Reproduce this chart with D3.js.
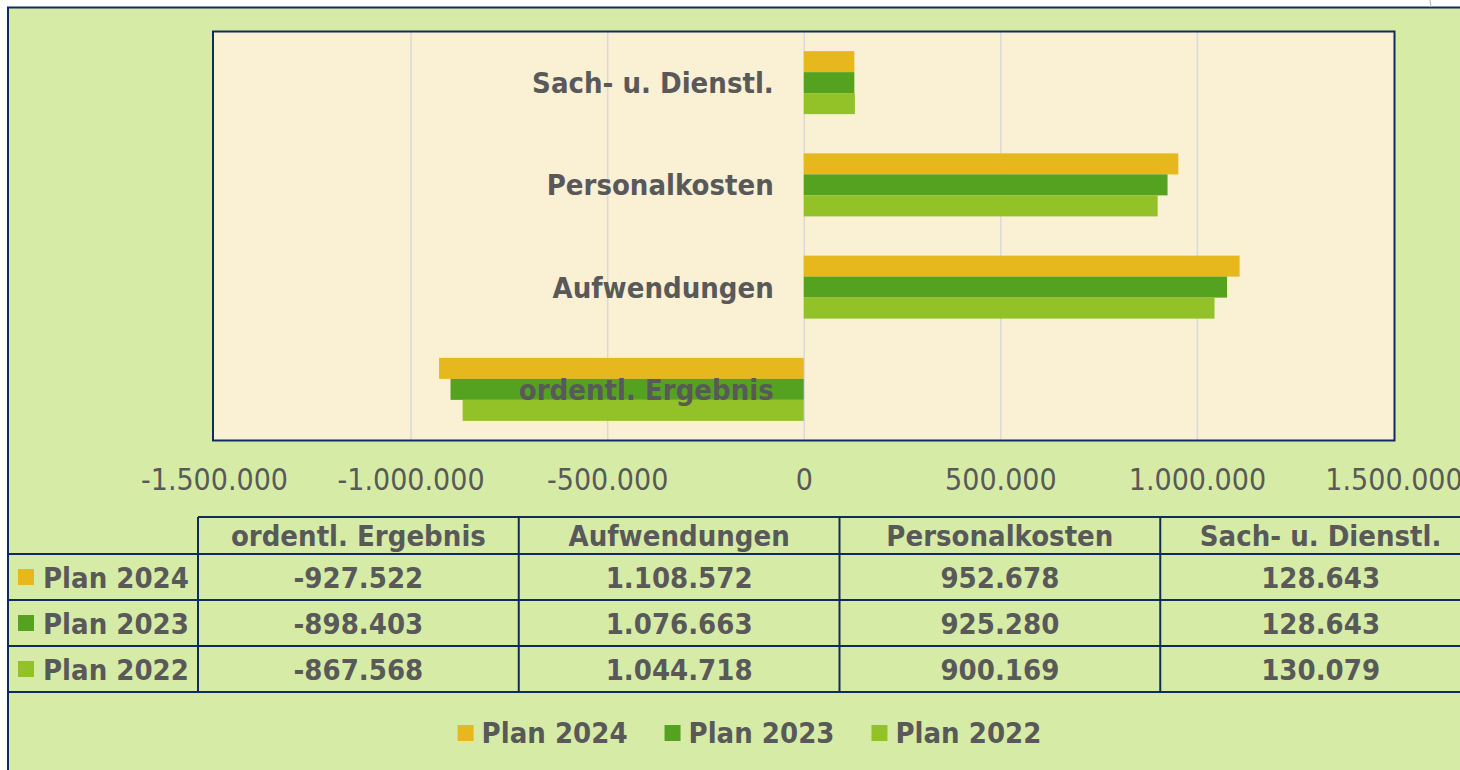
<!DOCTYPE html>
<html>
<head>
<meta charset="utf-8">
<script src="https://cdn.jsdelivr.net/npm/d3@7"></script>
<style>
  html, body { margin: 0; padding: 0; background: #ffffff; }
  svg { display: block; }
  text { font-family: 'DejaVu Sans Condensed', 'DejaVu Sans', sans-serif; font-stretch: condensed; fill: #595959; }
</style>
</head>
<body>
<svg id="chart" width="1460" height="770"></svg>
<script>
// ---- data ----
const categories = ["ordentl. Ergebnis", "Aufwendungen", "Personalkosten", "Sach- u. Dienstl."];
const seriesNames = ["Plan 2024", "Plan 2023", "Plan 2022"];
const plan2024 = [-927522, 1108572, 952678, 128643];
const plan2023 = [-898403, 1076663, 925280, 128643];
const plan2022 = [-867568, 1044718, 900169, 130079];
const seriesColors = ["#E6B81E", "#55A221", "#92C227"];
const tickValues = [-1500000, -1000000, -500000, 0, 500000, 1000000, 1500000];

const seriesValues = [plan2024, plan2023, plan2022];

// ---- styles / layout ----
const navy = "#102B5E";
const FS = 29;
const de = d3.formatLocale({ decimal: ",", thousands: ".", grouping: [3], currency: ["", " €"], minus: "-" });
const fmt = de.format(",d");

const svg = d3.select("#chart");

// outer frame
svg.append("rect").attr("x", 8).attr("y", 7.5).attr("width", 1484).attr("height", 800)
  .attr("fill", "#D6ECA6").attr("stroke", navy).attr("stroke-width", 2);

// small gray stray line at top right
svg.append("path").attr("d", "M1430,0 Q1430.5,4 1431,7").attr("stroke", "#BDBDBD").attr("stroke-width", 1.2).attr("fill", "none");

// plot area
const plot = { left: 213, top: 31.5, right: 1394.5, bottom: 440.5 };
svg.append("rect").attr("x", plot.left).attr("y", plot.top)
  .attr("width", plot.right - plot.left).attr("height", plot.bottom - plot.top)
  .attr("fill", "#FAF0D3");

const x = d3.scaleLinear().domain([-1500000, 1500000]).range([214, 1393.5]);

// gridlines
const grid = svg.append("g").attr("transform", `translate(0,${plot.bottom})`)
  .call(d3.axisBottom(x).tickValues(tickValues.slice(1, -1)).tickSize(-(plot.bottom - plot.top)).tickFormat(""));
grid.select(".domain").remove();
grid.selectAll(".tick line").attr("stroke", "#D9D9D9").attr("stroke-width", 1.5);

// bars
const yOuter = d3.scaleBand().domain(categories.slice().reverse()).range([plot.top, plot.bottom]);
const yInner = d3.scaleBand().domain(seriesNames).range([0, yOuter.bandwidth()]).paddingOuter(0.935);

const rows = [];
categories.forEach((c, ci) => {
  seriesNames.forEach((s, si) => rows.push({ cat: c, series: s, value: seriesValues[si][ci], color: seriesColors[si] }));
});

svg.append("g").selectAll("rect").data(rows).join("rect")
  .attr("x", d => Math.min(x(0), x(d.value)))
  .attr("width", d => Math.abs(x(d.value) - x(0)))
  .attr("y", d => yOuter(d.cat) + yInner(d.series))
  .attr("height", yInner.bandwidth())
  .attr("fill", d => d.color);

// category labels (inside plot, right aligned left of zero)
svg.append("g").selectAll("text").data(categories).join("text")
  .attr("x", x(0) - 30)
  .attr("y", d => yOuter(d) + yOuter.bandwidth() / 2 + FS * 0.365)
  .attr("text-anchor", "end")
  .attr("font-size", FS)
  .attr("font-weight", "bold")
  .text(d => d);

// plot border
svg.append("rect").attr("x", plot.left).attr("y", plot.top)
  .attr("width", plot.right - plot.left).attr("height", plot.bottom - plot.top)
  .attr("fill", "none").attr("stroke", navy).attr("stroke-width", 2);

// x axis labels
const ax = svg.append("g").attr("transform", `translate(0,${plot.bottom})`)
  .call(d3.axisBottom(x).tickValues(tickValues).tickSize(0).tickPadding(0).tickFormat(fmt));
ax.select(".domain").remove();
ax.selectAll(".tick text")
  .attr("y", 490 - plot.bottom).attr("dy", null)
  .attr("font-size", 30)
  .style("font-family", "'DejaVu Sans Condensed', 'DejaVu Sans', sans-serif")
  .attr("fill", "#595959");

// ---- data table ----
const tbl = { top: 517, rowTops: [554, 600, 646], bottom: 692 };
const col = d3.scaleBand().domain(categories).range([198, 1481]);
const tg = svg.append("g");

// header texts
tg.selectAll("text.hdr").data(categories).join("text").attr("class", "hdr")
  .attr("x", d => col(d) + col.bandwidth() / 2)
  .attr("y", (tbl.top + tbl.rowTops[0]) / 2 + FS * 0.365)
  .attr("text-anchor", "middle").attr("font-size", FS).attr("font-weight", "bold")
  .text(d => d);

// rows
seriesNames.forEach((s, si) => {
  const top = tbl.rowTops[si];
  const bot = si < 2 ? tbl.rowTops[si + 1] : tbl.bottom;
  const cy = (top + bot) / 2;
  tg.append("rect").attr("x", 18).attr("y", cy - 8).attr("width", 16).attr("height", 16).attr("fill", seriesColors[si]);
  tg.append("text").attr("x", 43).attr("y", cy + FS * 0.365)
    .attr("font-size", FS).attr("font-weight", "bold").text(s);
  tg.selectAll(null).data(categories).join("text")
    .attr("x", d => col(d) + col.bandwidth() / 2)
    .attr("y", cy + FS * 0.365)
    .attr("text-anchor", "middle").attr("font-size", FS).attr("font-weight", "bold")
    .text((d, ci) => fmt(seriesValues[si][ci]));
});

// table lines
const lineAttrs = sel => sel.attr("stroke", navy).attr("stroke-width", 2);
tg.append("line").attr("x1", 198).attr("x2", 1495).attr("y1", tbl.top).attr("y2", tbl.top).call(lineAttrs);
[...tbl.rowTops, tbl.bottom].forEach(yv => {
  tg.append("line").attr("x1", 8).attr("x2", 1495).attr("y1", yv).attr("y2", yv).call(lineAttrs);
});
[198, ...categories.map(c => col(c) + col.bandwidth())].forEach(xv => {
  tg.append("line").attr("x1", xv).attr("x2", xv).attr("y1", tbl.top).attr("y2", tbl.bottom).call(lineAttrs);
});

// ---- legend ----
const lg = svg.append("g");
const items = seriesNames.map((s, i) => {
  const g = lg.append("g");
  g.append("rect").attr("x", 0).attr("y", -18).attr("width", 16).attr("height", 16).attr("fill", seriesColors[i]);
  const t = g.append("text").attr("x", 24).attr("y", 0).attr("font-size", FS).attr("font-weight", "bold").text(s);
  return { g, w: 24 + t.node().getComputedTextLength() };
});
const gap = 37;
const total = d3.sum(items, d => d.w) + gap * (items.length - 1);
let cx = 749.5 - total / 2;
items.forEach(it => { it.g.attr("transform", `translate(${cx},743)`); cx += it.w + gap; });
</script>
</body>
</html>
